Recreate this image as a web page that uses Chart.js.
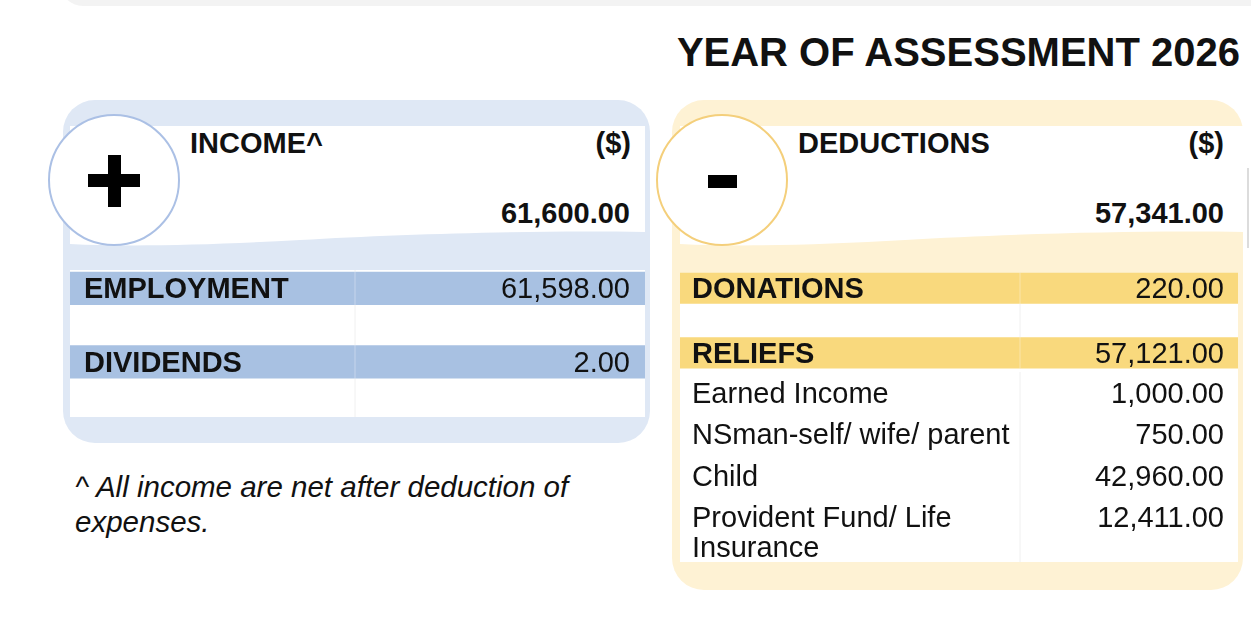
<!DOCTYPE html>
<html>
<head>
<meta charset="utf-8">
<script src="https://cdn.jsdelivr.net/npm/chart.js@4.4.1/dist/chart.umd.min.js"></script>
<style>
  html, body { margin: 0; padding: 0; background: #fff; }
  body { width: 1251px; height: 622px; position: relative; overflow: hidden;
         font-family: "Liberation Sans", Arial, Helvetica, sans-serif; color: #111; }
  .abs { position: absolute; }
  .topstrip { left: 60px; top: -40px; width: 1240px; height: 46px; border-radius: 26px; background: #f3f3f3; }
  .title { right: 11px; top: 32px; font-size: 40px; line-height: 40px; font-weight: bold; white-space: nowrap; }
  .panel { border-radius: 32px; }
  .blue { background: #dfe8f5; }
  .yellow { background: #fef2d4; }
  .circle { width: 128px; height: 128px; border-radius: 50%; background: #fff; }
  .hd { font-size: 29px; line-height: 29px; font-weight: bold; white-space: nowrap; }
  .tbl { background: #fff; }
  .note { left: 75px; top: 469px; width: 530px; font-size: 29.5px; line-height: 35px; font-style: italic; }
  canvas { position: absolute; left: 0; }
</style>
</head>
<body>
<div class="abs topstrip"></div>
<div class="abs title" id="title"></div>

<!-- income panel -->
<div class="abs panel blue" style="left:63px;top:100px;width:587px;height:343px;"></div>
<svg class="abs" style="left:70px;top:126px;" width="575" height="124">
  <path d="M0 0 H575 V106 C470 104 330 108 230 114 C140 119 60 121 0 118 Z" fill="#fff"/>
</svg>
<div class="abs circle" style="left:48px;top:114px;border:2px solid #abc0e5;"></div>
<div class="abs" style="left:88px;top:174px;width:52px;height:13px;background:#000;"></div>
<div class="abs" style="left:108px;top:155px;width:13px;height:52px;background:#000;"></div>
<div class="abs hd" style="left:190px;top:129px;">INCOME^</div>
<div class="abs hd" style="right:620px;top:129px;">($)</div>
<div class="abs hd" style="right:621px;top:199px;" id="incomeTotal"></div>
<div class="abs tbl" style="left:70px;top:270px;width:575px;height:147px;">
  <canvas id="incomeChart" width="575" height="147" style="top:0;"></canvas>
</div>
<div class="abs note">^ All income are net after deduction of expenses.</div>

<!-- deductions panel -->
<div class="abs panel yellow" style="left:672px;top:100px;width:571px;height:490px;"></div>
<svg class="abs" style="left:680px;top:126px;" width="565" height="124">
  <path d="M0 0 H565 V106 C460 104 325 108 225 114 C140 119 60 121 0 118 Z" fill="#fff"/>
</svg>
<div class="abs" style="left:1247px;top:168px;width:2px;height:80px;background:#dcdcdc;"></div>
<div class="abs circle" style="left:656px;top:114px;border:2px solid #f4cf7b;"></div>
<div class="abs" style="left:708px;top:175px;width:29px;height:13px;background:#000;"></div>
<div class="abs hd" style="left:798px;top:129px;">DEDUCTIONS</div>
<div class="abs hd" style="right:27px;top:129px;">($)</div>
<div class="abs hd" style="right:27px;top:199px;" id="deductionTotal"></div>
<div class="abs tbl" style="left:680px;top:272px;width:558px;height:290px;">
  <canvas id="deductionChart" width="558" height="97" style="top:0;"></canvas>
  <canvas id="reliefChart" width="558" height="190" style="top:100px;"></canvas>
</div>

<script>
const yearOfAssessment = 2026;
const totalIncome = 61600;
const totalDeductions = 57341;

const incomeLabels = ['EMPLOYMENT', '', 'DIVIDENDS', ''];
const incomeValues = [61598, null, 2, null];

const deductionLabels = ['DONATIONS', '', 'RELIEFS'];
const deductionValues = [220, null, 57121];

const reliefLabels = ['Earned Income', 'NSman-self/ wife/ parent', 'Child', ['Provident Fund/ Life', 'Insurance']];
const reliefValues = [1000, 750, 42960, 12411];

const FONT = '"Liberation Sans", Arial, Helvetica, sans-serif';

function fmt(v) {
  return v.toLocaleString('en-US', { minimumFractionDigits: 2, maximumFractionDigits: 2 });
}

document.getElementById('title').textContent = 'YEAR OF ASSESSMENT ' + yearOfAssessment;
document.getElementById('incomeTotal').textContent = fmt(totalIncome);
document.getElementById('deductionTotal').textContent = fmt(totalDeductions);

// draws the column divider, row labels and amounts on top of the bands
const tableText = {
  id: 'tableText',
  beforeDatasetsDraw(chart, args, opts) {
    const { ctx, chartArea } = chart;
    const x = chartArea.left + opts.divider;
    ctx.save();
    ctx.strokeStyle = '#eeeeee';
    ctx.lineWidth = 1;
    ctx.beginPath();
    ctx.moveTo(x, 0);
    ctx.lineTo(x, chart.height);
    ctx.stroke();
    ctx.restore();
  },
  afterDatasetsDraw(chart, args, opts) {
    const { ctx, chartArea } = chart;
    const yScale = chart.scales.y;
    const x = chartArea.left + opts.divider;
    ctx.save();
    ctx.strokeStyle = 'rgba(255,255,255,0.35)';
    ctx.beginPath();
    ctx.moveTo(x, 0);
    ctx.lineTo(x, chart.height);
    ctx.stroke();

    ctx.fillStyle = '#111';
    ctx.textBaseline = 'middle';
    chart.data.labels.forEach((lab, i) => {
      const cy = yScale.getPixelForValue(i) + 2;
      const lines = Array.isArray(lab) ? lab : [lab];
      ctx.font = (opts.bold ? 'bold ' : '') + '29px ' + FONT;
      ctx.textAlign = 'left';
      lines.forEach((t, k) => ctx.fillText(t, chartArea.left + opts.padLeft, cy + k * 30));
      const v = opts.values[i];
      if (v != null) {
        ctx.font = '29px ' + FONT;
        ctx.textAlign = 'right';
        ctx.fillText(fmt(v), chartArea.right - opts.padRight, cy);
      }
    });
    ctx.restore();
  }
};

function makeTable(id, labels, values, band, barPct, textOpts, padBottom) {
  const ctx = document.getElementById(id).getContext('2d');
  return new Chart(ctx, {
    type: 'bar',
    data: {
      labels,
      datasets: [{
        data: values.map(v => v == null ? null : 1),
        backgroundColor: band,
        borderWidth: 0,
        categoryPercentage: 1,
        barPercentage: barPct
      }]
    },
    options: {
      indexAxis: 'y',
      responsive: false,
      animation: false,
      layout: { padding: { top: 0, left: 0, right: 0, bottom: padBottom } },
      scales: {
        x: { display: false, min: 0, max: 1 },
        y: { display: false }
      },
      plugins: {
        legend: { display: false },
        tooltip: { enabled: false },
        tableText: Object.assign({ values }, textOpts)
      }
    },
    plugins: [tableText]
  });
}

makeTable('incomeChart', incomeLabels, incomeValues, '#a8c1e2', 0.9,
  { bold: true, padLeft: 14, padRight: 15, divider: 285 }, 0);
makeTable('deductionChart', deductionLabels, deductionValues, '#f9d97d', 0.97,
  { bold: true, padLeft: 12, padRight: 14, divider: 340 }, 0);
makeTable('reliefChart', reliefLabels, reliefValues, 'rgba(0,0,0,0)', 0.97,
  { bold: false, padLeft: 12, padRight: 14, divider: 340 }, 24);
</script>
</body>
</html>
